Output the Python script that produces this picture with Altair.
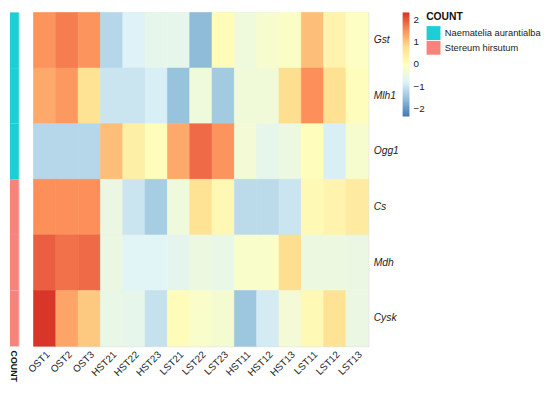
import altair as alt
import pandas as pd

genes = ["Gst", "Mlh1", "Ogg1", "Cs", "Mdh", "Cysk"]
samples = ["OST1", "OST2", "OST3", "HST21", "HST22", "HST23", "LST21", "LST22", "LST23",
           "HST11", "HST12", "HST13", "LST11", "LST12", "LST13"]

gst  = [1.5, 1.7, 1.5, -1.2, -0.8, -0.6, -0.6, -1.6, 0.1, -0.4, -0.2, -0.1, 1.1, 0.3, -0.05]
mlh1 = [1.3, 1.45, 0.7, -1.0, -1.0, -0.85, -1.5, -0.4, -1.4, -0.35, -0.35, 0.8, 1.55, 0.75, 0.05]
ogg1 = [-1.2, -1.2, -1.2, 1.1, 0.4, 0.05, 1.3, 1.85, 1.5, -0.3, -0.6, -0.45, 0.05, -0.85, -0.2]
cs   = [1.55, 1.55, 1.55, -0.5, -1.0, -1.35, -0.4, 0.7, 0.2, -1.15, -1.15, -1.0, 0.15, 0.3, 0.5]
mdh  = [1.95, 1.8, 1.85, -0.5, -0.75, -0.75, -0.65, -0.45, -0.55, -0.15, -0.15, 0.8, -0.45, -0.45, -0.5]
cysk = [2.3, 1.35, 1.0, -0.55, -0.6, -1.05, 0.1, -0.15, -0.25, -1.45, -0.9, -0.3, 0.15, 0.7, -0.5]
rows = [gst, mlh1, ogg1, cs, mdh, cysk]

groups = ["Naematelia aurantialba", "Stereum hirsutum"]
gene_group = ["Naematelia aurantialba"] * 3 + ["Stereum hirsutum"] * 3
group_colors = ["#1BCFD4", "#F8837C"]

legend_ticks = [-2, -1, 0, 1, 2]
palette = ["#4575b4", "#91bfdb", "#e0f3f8", "#ffffbf", "#fee090", "#fc8d59", "#d73027"]
lo, hi = -2.35, 2.35
stops = [lo + (hi - lo) * i / (len(palette) - 1) for i in range(len(palette))]

heat_df = pd.DataFrame(
    [{"gene": g, "sample": s, "value": v} for g, r in zip(genes, rows) for s, v in zip(samples, r)]
)
ann_df = pd.DataFrame({"gene": genes, "group": gene_group, "lab": ["COUNT"] * len(genes)})

FONT = "Liberation Sans"
H = 340
W = 341

group_scale = alt.Scale(domain=groups, range=group_colors)
value_scale = alt.Scale(domain=stops, range=palette, interpolate="rgb")

heat_rects = alt.Chart(heat_df).mark_rect(strokeWidth=0.6).encode(
    x=alt.X("sample:N", sort=samples,
            scale=alt.Scale(paddingInner=0, paddingOuter=0),
            axis=alt.Axis(title=None, labelAngle=-45, domain=False, ticks=False,
                          labelFontSize=10, labelPadding=3, labelColor="#222")),
    y=alt.Y("gene:N", sort=genes,
            scale=alt.Scale(paddingInner=0, paddingOuter=0),
            axis=alt.Axis(title=None, orient="right", domain=False, ticks=False,
                          labelFontStyle="italic", labelFontSize=10.5, labelPadding=5,
                          labelColor="#222")),
    color=alt.Color("value:Q", scale=value_scale,
                    legend=alt.Legend(title=None, orient="none", legendX=376, legendY=0,
                                      direction="vertical", gradientLength=106,
                                      gradientThickness=7, values=legend_ticks,
                                      labelFontSize=10, labelColor="#222", labelOffset=4,
                                      gradientStrokeWidth=0)),
    stroke=alt.Stroke("value:Q", scale=value_scale, legend=None),
)

# invisible layer that only carries the COUNT legend
group_key = alt.Chart(ann_df).mark_rect(opacity=0).encode(
    y=alt.Y("gene:N", sort=genes),
    color=alt.Color("group:N", scale=group_scale,
                    legend=alt.Legend(title="COUNT", orient="none", legendX=400, legendY=0,
                                      symbolType="square", symbolSize=200, symbolOpacity=1,
                                      symbolStrokeWidth=0, titleFontSize=10.5,
                                      titleFontWeight="bold", titleColor="#111",
                                      labelFontSize=9.5, labelColor="#222", labelOffset=4,
                                      rowPadding=0, symbolOffset=0, titlePadding=3)),
)

heat = alt.layer(group_key, heat_rects).resolve_scale(color="independent").properties(
    width=W, height=H)

ann = alt.Chart(ann_df).mark_rect().encode(
    x=alt.X("lab:N",
            scale=alt.Scale(paddingInner=0, paddingOuter=0),
            axis=alt.Axis(title=None, labelAngle=90, domain=False, ticks=False,
                          labelFontWeight="bold", labelFontSize=9, labelPadding=4,
                          labelColor="#111")),
    y=alt.Y("gene:N", sort=genes, axis=None,
            scale=alt.Scale(paddingInner=0, paddingOuter=0)),
    color=alt.Color("group:N", scale=group_scale, legend=None),
).properties(width=9, height=H)

chart = alt.hconcat(ann, heat, spacing=5).resolve_scale(color="independent").properties(
    padding={"left": 0, "top": 0, "right": 0, "bottom": 0}
).configure_view(stroke=None).configure(font=FONT)

chart.save("out.html", embed_options={"renderer": "svg", "actions": False})
